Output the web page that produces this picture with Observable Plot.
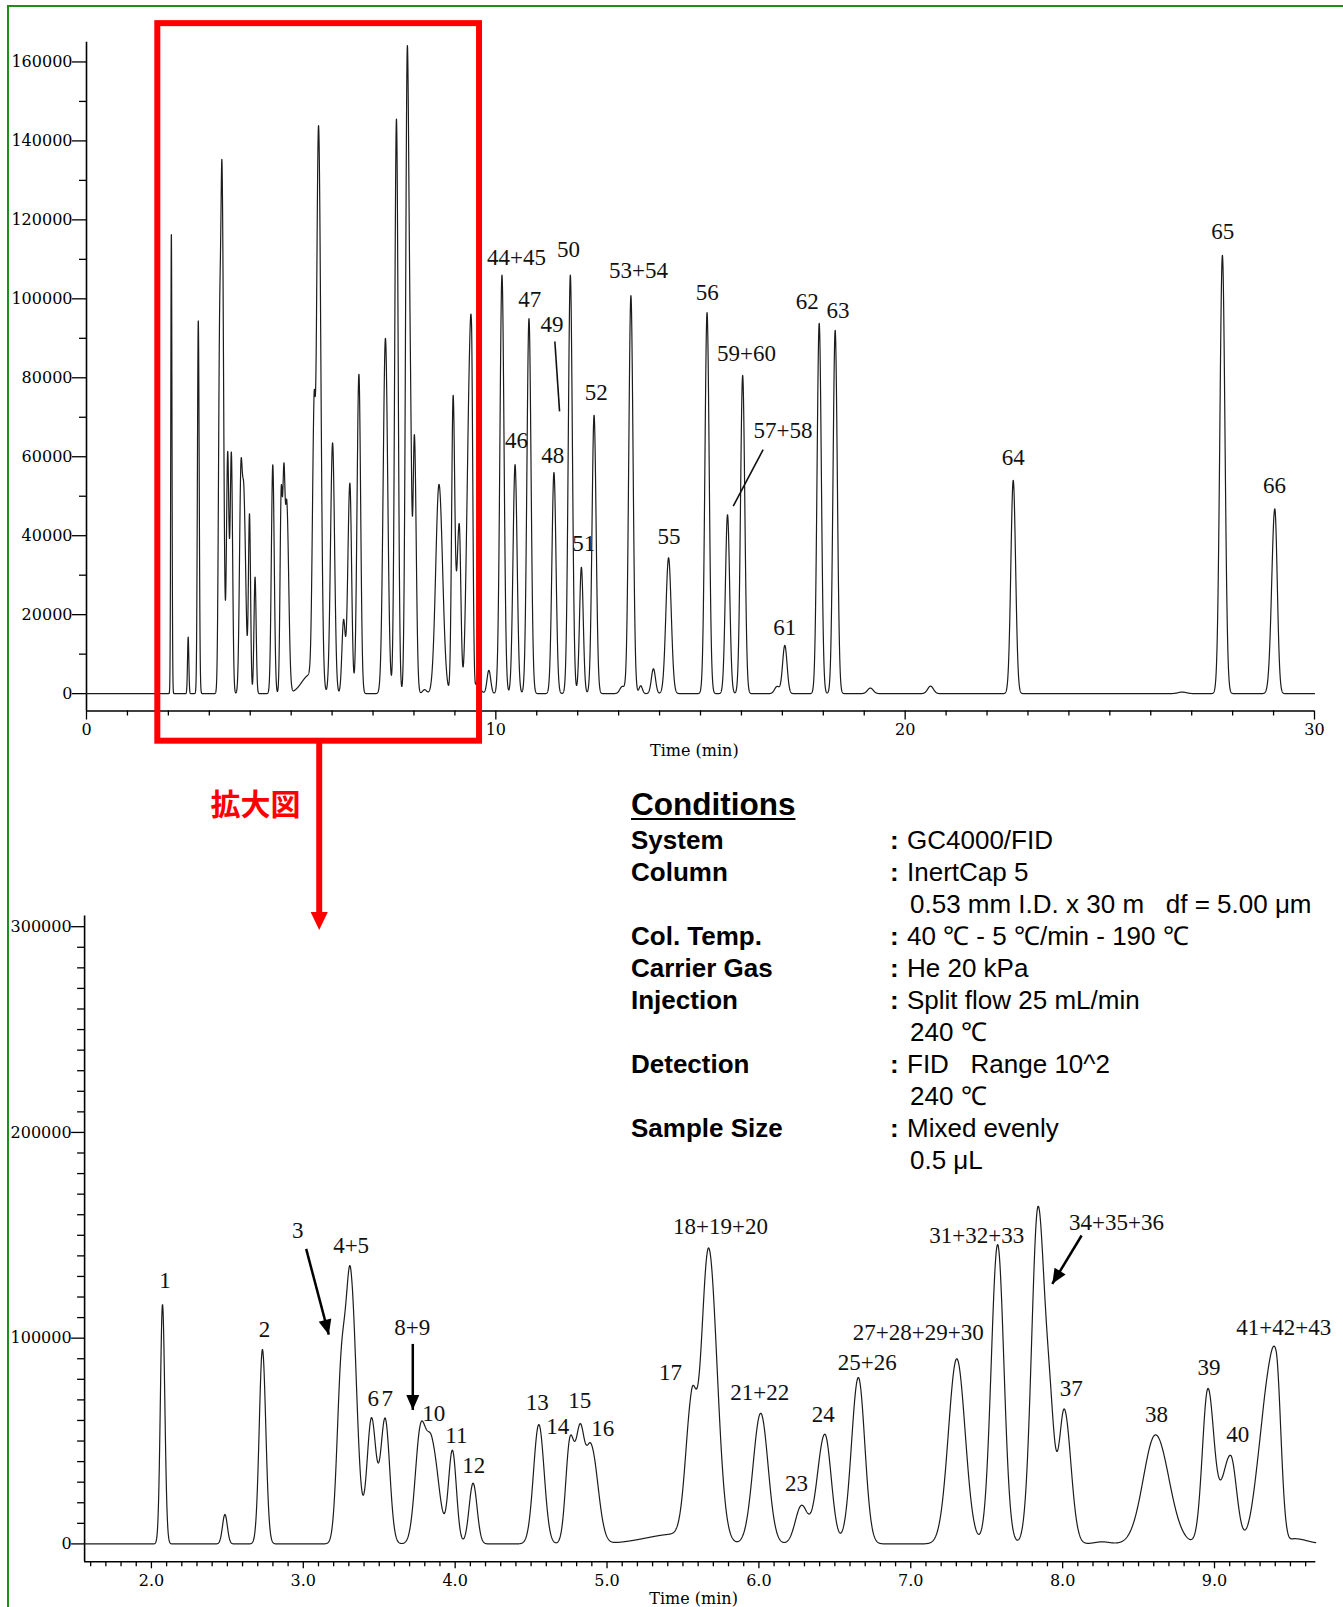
<!DOCTYPE html>
<html>
<head>
<meta charset="utf-8">
<script src="https://cdn.jsdelivr.net/npm/d3@7"></script>
<script src="https://cdn.jsdelivr.net/npm/@observablehq/plot@0.6"></script>
<style>
  html, body { margin: 0; padding: 0; background: #fff; }
  body { width: 1343px; height: 1607px; position: relative; overflow: hidden; }
  #frame { position: absolute; left: 7px; top: 5px; width: 1400px; height: 1700px;
           border-left: 2px solid #1a8f1a; border-top: 2px solid #1a8f1a; }
  #topChart { position: absolute; left: 0; top: 0; z-index: 2; }
  #bottomChart { position: absolute; left: 0; top: 880px; z-index: 1; }
  #cond { position: absolute; left: 0; top: 0; z-index: 3; font-family: "Liberation Sans", Arial, sans-serif; color: #000; }
  #cond .row { position: absolute; height: 32px; line-height: 32px; font-size: 26px; white-space: pre; }
  #cond .lab { font-weight: bold; }
  #cond .col { font-weight: bold; }
  #cond .title { position: absolute; font-size: 31.5px; font-weight: bold; line-height: 38px; height: 38px;
                 text-decoration: underline; text-decoration-thickness: 2px; text-underline-offset: 3px; white-space: pre; }
  svg { overflow: visible; }
</style>
</head>
<body>
<div id="frame"></div>
<div id="topChart"></div>
<div id="bottomChart"></div>
<div id="cond"></div>
<script>
// ---------------- DATA ----------------
// peak retention times (min), heights (signal), left / right widths (sigma, min)
const peakTime = [
  2.073, 2.484, 2.731, 3.250, 3.312, 3.449, 3.539, 3.772, 3.848, 3.982,
  4.118, 4.551, 4.756, 4.822, 4.895, 5.460, 5.556, 5.669, 6.012, 6.280,
  6.434, 6.655, 7.303, 7.572, 7.838, 7.920, 8.011, 8.260, 8.612, 8.956,
  9.105, 9.320, 9.405, 9.530, 9.830,
  10.15, 10.47, 10.81, 11.42, 11.82, 12.09, 12.40, 13.09, 13.30, 13.54,
  13.85, 14.22, 15.16, 15.66, 16.03, 16.87, 17.06, 17.90, 18.29, 19.15,
  20.62, 22.64, 26.77, 27.75, 29.03
];
const peakHeight = [
  116500, 14300, 94500, 80000, 127000, 60500, 60500, 54100, 46400, 45000,
  29500, 58000, 49000, 50000, 47000, 4800, 59500, 142000, 63500, 18300,
  53300, 80900, 90000, 145500, 163000, 45000, 65000, 1000, 53000, 73900,
  43000, 45000, 86500, 2500, 5900,
  106000, 58000, 95000, 56000, 106000, 32000, 70500, 1800, 100800, 2000,
  6300, 34400, 96500, 45300, 80600, 1800, 12200, 93800, 92000, 1400,
  1900, 54000, 400, 111000, 46800
];
const peakSigmaL = [
  0.014, 0.016, 0.021, 0.028, 0.030, 0.030, 0.030, 0.035, 0.035, 0.026,
  0.026, 0.035, 0.028, 0.028, 0.035, 0.200, 0.040, 0.050, 0.050, 0.040,
  0.050, 0.045, 0.055, 0.042, 0.042, 0.030, 0.035, 0.050, 0.080, 0.036,
  0.058, 0.055, 0.050, 0.030, 0.045,
  0.050, 0.050, 0.050, 0.050, 0.050, 0.045, 0.050, 0.060, 0.052, 0.040,
  0.050, 0.065, 0.052, 0.052, 0.052, 0.060, 0.055, 0.052, 0.052, 0.070,
  0.070, 0.058, 0.100, 0.062, 0.075
];
const peakSigmaR = [
  0.015, 0.016, 0.022, 0.028, 0.038, 0.030, 0.030, 0.035, 0.045, 0.026,
  0.026, 0.035, 0.028, 0.028, 0.045, 0.150, 0.030, 0.055, 0.048, 0.040,
  0.042, 0.042, 0.055, 0.041, 0.045, 0.030, 0.043, 0.050, 0.087, 0.040,
  0.040, 0.045, 0.032, 0.080, 0.045,
  0.050, 0.050, 0.050, 0.050, 0.050, 0.045, 0.050, 0.060, 0.052, 0.040,
  0.050, 0.065, 0.052, 0.052, 0.052, 0.060, 0.055, 0.052, 0.052, 0.070,
  0.070, 0.058, 0.100, 0.062, 0.060
];

// peak labels, full chromatogram (text, time, signal)
const topLabelText = ["44+45","46","47","48","49","50","51","52","53+54","55","56","57+58","59+60","61","62","63","64","65","66"];
const topLabelTime = [10.506, 10.506, 10.83, 11.393, 11.37, 11.776, 12.15, 12.453, 13.486, 14.23, 15.165, 17.013, 16.125, 17.06, 17.61, 18.36, 22.64, 27.76, 29.02];
const topLabelSignal = [110400, 64000, 99700, 60200, 93400, 112500, 37900, 76300, 107100, 39700, 101600, 66500, 86000, 16800, 99300, 97100, 59900, 116900, 52700];
// leader lines (49, 57+58)
const topLeaderFrom = [[11.442, 89200], [16.53, 61800]];
const topLeaderTo   = [[11.557, 71500], [15.80, 47500]];

// peak labels, enlarged view
const zoomLabelText = ["1","2","3","4+5","6","7","8+9","10","11","12","13","14","15","16","17","18+19+20","21+22","23","24","25+26","27+28+29+30","31+32+33","34+35+36","37","38","39","40","41+42+43"];
const zoomLabelTime = [2.090, 2.744, 2.963, 3.315, 3.460, 3.553, 3.717, 3.859, 4.008, 4.122, 4.540, 4.676, 4.821, 4.972, 5.418, 5.747, 6.006, 6.247, 6.423, 6.713, 7.049, 7.434, 8.355, 8.057, 8.618, 8.963, 9.153, 9.456];
const zoomLabelSignal = [128000, 104000, 152300, 145000, 70500, 70500, 105300, 63500, 52600, 38100, 68800, 57000, 69700, 55900, 83400, 154300, 73700, 29500, 62900, 88300, 102900, 149900, 156300, 75300, 62700, 85900, 53000, 105300];
// arrows (3, 8+9, 34+35+36): from -> tip
const zoomArrowFrom = [[3.019, 143400], [3.721, 97200], [8.125, 149900]];
const zoomArrowTo   = [[3.168, 101700], [3.721, 65100], [7.932, 126400]];

// axis ticks
const topYTicks = d3.range(0, 160001, 20000);
const topYMinor = d3.range(10000, 160001, 20000);
const topXTicks = [0, 10, 20, 30];
const topXMinor = d3.range(1, 30).filter(d => d % 10 !== 0);
const zoomYTicks = [0, 100000, 200000, 300000];
const zoomYMinor = d3.range(10000, 305001, 10000).filter(d => d % 100000 !== 0);
const zoomXTicks = [2, 3, 4, 5, 6, 7, 8, 9];
const zoomXMinor = d3.range(16, 97).filter(d => d % 10 !== 0).map(d => d / 10);

// domains and enlarged window (min)
const topXDomain = [0, 30];
const topYDomain = [-4400, 165000];
const zoomXDomain = [1.56, 9.667];
const zoomYDomain = [-8700, 305200];
const zoomWindow = {x1: 1.742, x2: 9.602, y1: -12050, y2: 169700};

// conditions text
const condTitle = "Conditions";
const condLabels = ["System", "Column", "", "Col. Temp.", "Carrier Gas", "Injection", "", "Detection", "", "Sample Size", ""];
const condValues = ["GC4000/FID", "InertCap 5", "0.53 mm I.D. x 30 m   df = 5.00 μm", "40 ℃ - 5 ℃/min - 190 ℃", "He 20 kPa", "Split flow 25 mL/min", "240 ℃", "FID   Range 10^2", "240 ℃", "Mixed evenly", "0.5 μL"];

(function () {
// ---------------- TRACE ----------------
function signalAt(t) {
  let s = 0;
  for (let i = 0; i < peakTime.length; i++) {
    const sg = t < peakTime[i] ? peakSigmaL[i] : peakSigmaR[i];
    const d = (t - peakTime[i]) / sg;
    if (d > -8 && d < 8) s += peakHeight[i] * Math.exp(-0.5 * d * d);
  }
  return s;
}
const trace = d3.range(0, 30.0005, 0.002).map(t => ({t, v: signalAt(t)}));
const zoomTrace = trace.filter(d => d.t >= zoomXDomain[0] && d.t <= zoomXDomain[1]);

const topLabels = topLabelText.map((label, i) => ({label, t: topLabelTime[i], v: topLabelSignal[i]}));
const topLeaders = topLeaderFrom.map((f, i) => ({x1: f[0], y1: f[1], x2: topLeaderTo[i][0], y2: topLeaderTo[i][1]}));
const zoomLabels = zoomLabelText.map((label, i) => ({label, t: zoomLabelTime[i], v: zoomLabelSignal[i]}));

// arrowhead symbol, tip at origin, body along +y (points up before rotation)
const headSymbol = (len, half) => ({draw(ctx) { ctx.moveTo(0, 0); ctx.lineTo(half, len); ctx.lineTo(-half, len); ctx.closePath(); }});

// ---------------- TOP CHART ----------------
const W = 1343;
const topH = 940, topMT = 41.7, topMB = 229.5, topML = 86, topMR = 29;
const serif = "Liberation Serif, Times New Roman, serif";
const axisFont = "DejaVu Serif, serif";

const topPx = d3.scaleLinear(topYDomain, [topH - topMB, topMT]);
const redArrowX = 5.685;
const redStemTop = zoomWindow.y1;
const redTip = topPx.invert(929.5);
const redBase = topPx.invert(912);

const topPlot = Plot.plot({
  width: W, height: topH,
  marginLeft: topML, marginRight: topMR, marginTop: topMT, marginBottom: topMB,
  x: {domain: topXDomain},
  y: {domain: topYDomain},
  style: {background: "transparent", color: "#000", fontFamily: axisFont, fontSize: "16px", overflow: "visible"},
  marks: [
    Plot.axisY({ticks: topYTicks, tickSize: 14, tickPadding: 0, tickFormat: d => String(d), label: null, fontFamily: axisFont, fontSize: 16, strokeWidth: 1.3}),
    Plot.axisY({ticks: topYMinor, tickSize: 7, fill: "none", label: null, strokeWidth: 1.3}),
    Plot.axisX({ticks: topXTicks, tickSize: 9, tickPadding: 4, tickFormat: d => String(d), label: null, fontFamily: axisFont, fontSize: 16, strokeWidth: 1.3}),
    Plot.axisX({ticks: topXMinor, tickSize: 5, fill: "none", label: null, strokeWidth: 1.3}),
    Plot.ruleY([topYDomain[0]], {stroke: "#000", strokeWidth: 1.6}),
    Plot.ruleX([topXDomain[0]], {stroke: "#000", strokeWidth: 1.6}),
    Plot.line(trace, {x: "t", y: "v", stroke: "#1c1c1c", strokeWidth: 1.2}),
    Plot.link(topLeaders, {x1: "x1", y1: "y1", x2: "x2", y2: "y2", stroke: "#111", strokeWidth: 1.6}),
    Plot.text(topLabels, {x: "t", y: "v", text: "label", fontFamily: serif, fontSize: 23, fill: "#111"}),
    Plot.text(["Time (min)"], {x: 14.85, y: topPx.invert(750), text: d => d, fontFamily: axisFont, fontSize: 16, fill: "#000"}),
    Plot.rect([zoomWindow], {x1: "x1", x2: "x2", y1: "y1", y2: "y2", fill: "none", stroke: "#ff0000", strokeWidth: 6}),
    Plot.ruleX([redArrowX], {y1: redStemTop, y2: redBase, stroke: "#ff0000", strokeWidth: 6}),
    Plot.dot([redArrowX], {x: d => d, y: redTip, symbol: headSymbol(18, 8.6), rotate: 180, fill: "#ff0000", stroke: "none", r: 5}),
    Plot.text(["拡大図"], {x: 4.13, y: topPx.invert(805), text: d => d, fontFamily: "Noto Sans CJK JP, sans-serif", fontWeight: "bold", fontSize: 30, fill: "#ff0000"})
  ]
});
document.getElementById("topChart").appendChild(topPlot);

// ---------------- ENLARGED CHART ----------------
const botH = 727, botMT = 35.5, botMB = 45.7, botML = 84.1, botMR = 27.7;
const bx = d3.scaleLinear(zoomXDomain, [botML, W - botMR]);
const by = d3.scaleLinear(zoomYDomain, [botH - botMB, botMT]);
const zoomArrows = zoomArrowFrom.map((f, i) => {
  const to = zoomArrowTo[i];
  const dx = bx(to[0]) - bx(f[0]), dy = by(to[1]) - by(f[1]);
  return {x1: f[0], y1: f[1], x2: to[0], y2: to[1], angle: Math.atan2(dx, -dy) * 180 / Math.PI};
});

const bottomPlot = Plot.plot({
  width: W, height: botH,
  marginLeft: botML, marginRight: botMR, marginTop: botMT, marginBottom: botMB,
  x: {domain: zoomXDomain},
  y: {domain: zoomYDomain},
  style: {background: "transparent", color: "#000", fontFamily: axisFont, fontSize: "16px", overflow: "visible"},
  marks: [
    Plot.axisY({ticks: zoomYTicks, tickSize: 13, tickPadding: 0, tickFormat: d => String(d), label: null, fontFamily: axisFont, fontSize: 16, strokeWidth: 1.3}),
    Plot.axisY({ticks: zoomYMinor, tickSize: 7, fill: "none", label: null, strokeWidth: 1.3}),
    Plot.axisX({ticks: zoomXTicks, tickSize: 7, tickPadding: 6, tickFormat: d3.format(".1f"), label: null, fontFamily: axisFont, fontSize: 16, strokeWidth: 1.3}),
    Plot.axisX({ticks: zoomXMinor, tickSize: 5, fill: "none", label: null, strokeWidth: 1.3}),
    Plot.ruleY([zoomYDomain[0]], {stroke: "#000", strokeWidth: 1.6}),
    Plot.ruleX([zoomXDomain[0]], {stroke: "#000", strokeWidth: 1.6}),
    Plot.line(zoomTrace, {x: "t", y: "v", stroke: "#1c1c1c", strokeWidth: 1.2}),
    Plot.link(zoomArrows, {x1: "x1", y1: "y1", x2: "x2", y2: "y2", stroke: "#000", strokeWidth: 2.5}),
    Plot.dot(zoomArrows, {x: "x2", y: "y2", rotate: "angle", symbol: headSymbol(15, 6.5), fill: "#000", stroke: "none", r: 5}),
    Plot.text(zoomLabels, {x: "t", y: "v", text: "label", fontFamily: serif, fontSize: 23, fill: "#111"}),
    Plot.text(["Time (min)"], {x: 5.57, y: by.invert(1598 - 880), text: d => d, fontFamily: axisFont, fontSize: 16, fill: "#000"})
  ]
});
document.getElementById("bottomChart").appendChild(bottomPlot);

// ---------------- CONDITIONS ----------------
const cond = document.getElementById("cond");
const titleDiv = document.createElement("div");
titleDiv.className = "title";
titleDiv.textContent = condTitle;
titleDiv.style.left = "631px";
titleDiv.style.top = (804 - 19) + "px";
cond.appendChild(titleDiv);
condLabels.forEach((lab, i) => {
  const cy = 839.6 + i * 31.99;
  if (lab) {
    const a = document.createElement("div");
    a.className = "row lab";
    a.style.left = "631px";
    a.style.top = (cy - 16) + "px";
    a.textContent = lab;
    cond.appendChild(a);
    const c = document.createElement("div");
    c.className = "row col";
    c.style.left = "890px";
    c.style.top = (cy - 16) + "px";
    c.textContent = ":";
    cond.appendChild(c);
  }
  const v = document.createElement("div");
  v.className = "row";
  v.style.left = (lab ? 907 : 910) + "px";
  v.style.top = (cy - 16) + "px";
  v.textContent = condValues[i];
  cond.appendChild(v);
});
})();
</script>
</body>
</html>
